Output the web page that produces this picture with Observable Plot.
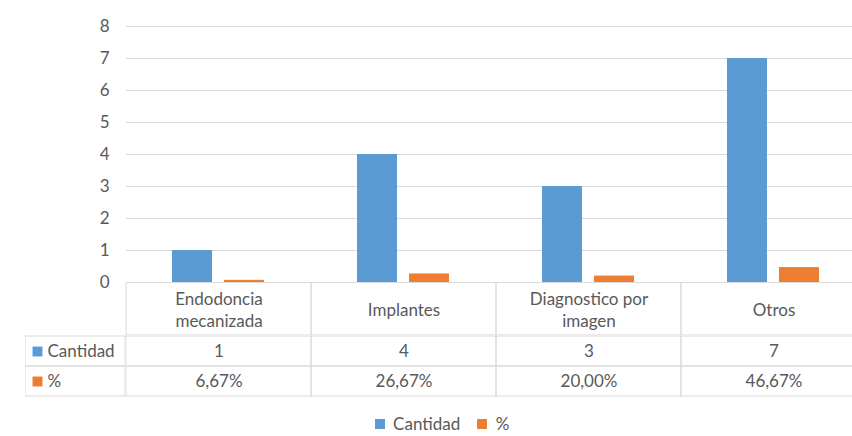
<!DOCTYPE html>
<html>
<head>
<meta charset="utf-8">
<script src="https://cdn.jsdelivr.net/npm/d3@7"></script>
<script src="https://cdn.jsdelivr.net/npm/@observablehq/plot@0.6"></script>
<style>
  html, body { margin: 0; padding: 0; background: #fff; overflow: hidden; }
  body { width: 852px; height: 436px; font-family: Lato, "Open Sans", sans-serif; color: #595959; }
  svg { display: block; }
  .row { display: flex; }
  #legend { display: flex; justify-content: center; padding-left: 49px; margin-top: 10px; }
</style>
</head>
<body>
<div id="chart"></div>
<div class="row" id="header"></div>
<div class="row" id="table"></div>
<div id="legend"></div>
<script>
// ---- data ----
const categories = ["Endodoncia\nmecanizada", "Implantes", "Diagnostico por\nimagen", "Otros"];
const series = ["Cantidad", "%"];
const cantidad = [1, 4, 3, 7];
const porcentaje = [0.0667, 0.2667, 0.2, 0.4667];
const cantidadLabels = ["1", "4", "3", "7"];
const porcentajeLabels = ["6,67%", "26,67%", "20,00%", "46,67%"];
const yTicks = [0, 1, 2, 3, 4, 5, 6, 7, 8];
const colors = ["#5b9bd5", "#ed7d31"];

const gridColor = "#d9d9d9";
const font = {fontFamily: "Lato, 'Open Sans', sans-serif", fontSize: "17px", color: "#595959", background: "transparent", overflow: "hidden"};

const bars = categories.flatMap((c, i) => [
  {cat: c, serie: series[0], value: cantidad[i]},
  {cat: c, serie: series[1], value: porcentaje[i]}
]);
const cells = categories.flatMap((c, i) => [
  {cat: c, row: series[0], text: cantidadLabels[i]},
  {cat: c, row: series[1], text: porcentajeLabels[i]}
]);
const colorScale = {domain: series, range: colors};

// ---- bar chart ----
const chart = Plot.plot({
  width: 852, height: 282,
  marginLeft: 125, marginRight: -14, marginTop: 26, marginBottom: 0,
  style: {...font, overflow: "visible", position: "relative", zIndex: 2},
  fx: {domain: categories, padding: 0, axis: null, label: null},
  x: {domain: series, paddingInner: 0.226, paddingOuter: 0.86, axis: null, label: null},
  y: {domain: [0, 8], label: null},
  color: colorScale,
  marks: [
    Plot.gridY(yTicks, {stroke: gridColor, strokeOpacity: 1}),
    Plot.axisY(yTicks, {tickSize: 0, tickPadding: 17, label: null}),
    Plot.barY(bars, {fx: "cat", x: "serie", y: "value", fill: "serie"})
  ]
});
document.getElementById("chart").append(chart);

// ---- table header row ----
const spacer = document.createElement("div");
spacer.style.width = "125px";
spacer.style.flex = "none";
document.getElementById("header").append(spacer);
const header = Plot.plot({
  width: 727, height: 53,
  marginLeft: 0, marginRight: -14, marginTop: 0, marginBottom: 0,
  style: font,
  x: {domain: categories, padding: 0, axis: null},
  marks: [
    Plot.cell(categories, {x: d => d, fill: "none", stroke: gridColor}),
    Plot.text(categories, {x: d => d, text: d => d, lineHeight: 1.3, fill: "#595959"})
  ]
});
document.getElementById("header").append(header);

// ---- table key column ----
const keySpacer = document.createElement("div");
keySpacer.style.width = "25px";
keySpacer.style.flex = "none";
document.getElementById("table").append(keySpacer);
const key = Plot.plot({
  width: 100, height: 62,
  marginLeft: 0, marginRight: 0, marginTop: 0, marginBottom: 1,
  style: font,
  y: {domain: series, padding: 0, axis: null},
  color: colorScale,
  marks: [
    Plot.cell(series, {y: d => d, fill: "none", stroke: gridColor}),
    Plot.dot(series, {y: d => d, frameAnchor: "left", dx: 12, symbol: "square", r: 5.6, fill: d => d, stroke: null}),
    Plot.text(series, {y: d => d, text: d => d, frameAnchor: "left", dx: 22, textAnchor: "start", fill: "#595959"})
  ]
});
document.getElementById("table").append(key);

// ---- table data rows ----
const table = Plot.plot({
  width: 727, height: 62,
  marginLeft: 0, marginRight: -14, marginTop: 0, marginBottom: 1,
  style: font,
  x: {domain: categories, padding: 0, axis: null},
  y: {domain: series, padding: 0, axis: null},
  marks: [
    Plot.cell(cells, {x: "cat", y: "row", fill: "none", stroke: gridColor}),
    Plot.text(cells, {x: "cat", y: "row", text: "text", fill: "#595959"})
  ]
});
document.getElementById("table").append(table);

// ---- legend ----
const legend = Plot.legend({
  color: {type: "ordinal", ...colorScale},
  swatchSize: 10,
  style: {fontFamily: "Lato, 'Open Sans', sans-serif", fontSize: "17px", color: "#595959"}
});
document.getElementById("legend").append(legend);
</script>
</body>
</html>
